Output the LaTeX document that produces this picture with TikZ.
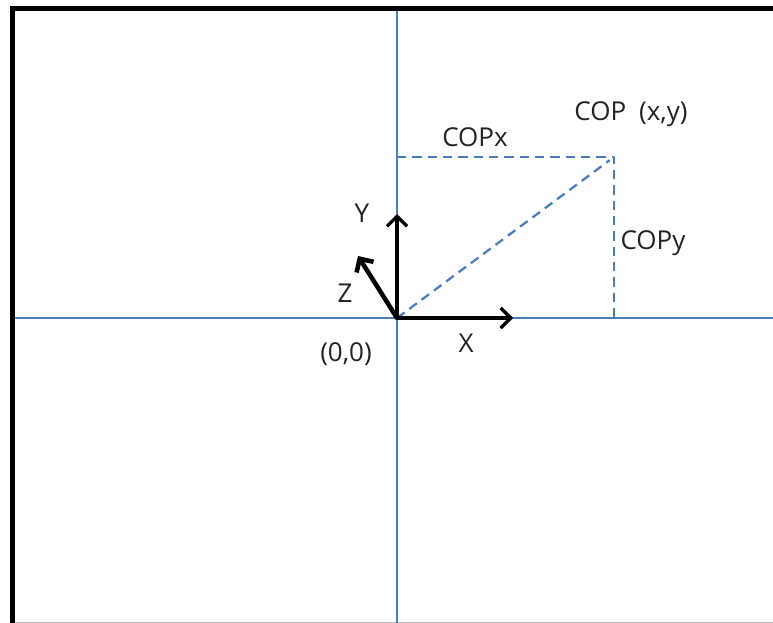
\documentclass[tikz,border=0pt]{standalone}
\usepackage{fontspec}
\setmainfont{Open Sans}
\usetikzlibrary{arrows.meta}
\definecolor{axisblue}{RGB}{74,126,190}
\definecolor{labelgray}{RGB}{35,35,35}
\begin{document}
\begin{tikzpicture}[x=0.75pt, y=-0.75pt, font=\fontsize{19.5}{23}\selectfont, line join=round, line cap=round,
  >={Straight Barb[length=7.5pt,width=15pt]},
  axis/.style={axisblue, line width=1.7pt, line cap=butt},
  copdash/.style={axisblue, line width=1.7pt, line cap=butt, dash pattern=on 7pt off 4.5pt},
  vec/.style={->, black, line width=2.4pt},
  lbl/.style={text=labelgray, inner sep=0pt}]
\useasboundingbox (0,0) rectangle (773,623);
\def\ox{397} \def\oy{318}
\def\cx{614} \def\cy{157}
% frame
\draw[line width=3.75pt, line cap=rect, line join=miter] (12.5,630) -- (12.5,8.5) -- (780,8.5);
\draw[black!25, line width=0.75pt, line cap=butt] (15,622.5) -- (773,622.5);
% axes
\coordinate (O) at (\ox,\oy);
\coordinate (top) at (\ox,11);   \coordinate (bot) at (\ox,623);
\coordinate (left) at (15,\oy);  \coordinate (right) at (773,\oy);
\draw[axis] (top) -- (bot);
\draw[axis] (left) -- (right);
% centre of pressure
\coordinate (P) at (\cx,\cy);
\coordinate (Px) at (\ox,\cy);
\coordinate (Py) at (\cx,\oy);
\draw[copdash] (Px) -- (P) -- (Py);
\draw[copdash, shorten >=4pt] (O) -- (P);
% unit vectors
\coordinate (Xtip) at (513,\oy);
\coordinate (Ytip) at (\ox,214);
\coordinate (Ztip) at (358,256);
\draw[vec] (O) -- (Xtip);
\draw[vec] (O) -- (Ytip);
\draw[vec, line width=3.4pt] (O) -- (Ztip);
% labels
\node[lbl] (lblX) at (466,343) {X};
\node[lbl] (lblY) at (362,213) {Y};
\node[lbl] (lblZ) at (345,293) {Z};
\node[lbl] (lblO) at (346,354) {(0,0)};
\node[lbl] (lblCOP) at (631,114) {COP\enspace(x,y)};
\node[lbl] (lblCOPx) at (475,137) {COPx};
\node[lbl] (lblCOPy) at (653,243) {COPy};
\end{tikzpicture}
\end{document}
